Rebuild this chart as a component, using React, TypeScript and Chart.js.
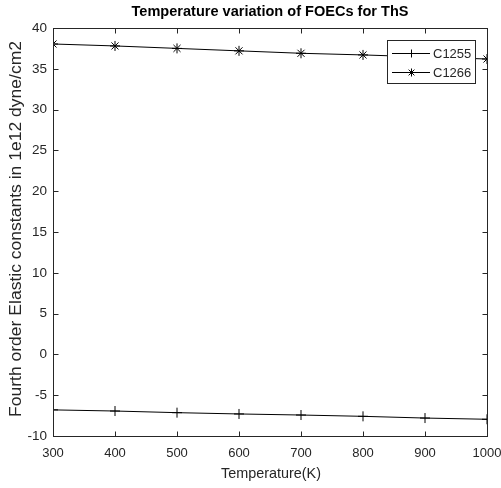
import React, { useEffect, useRef } from "react";
import { Chart, registerables } from "chart.js";

Chart.register(...registerables);

const temperatures = [300, 400, 500, 600, 700, 800, 900, 1000];
const c1255 = [-6.8, -6.94, -7.14, -7.3, -7.43, -7.59, -7.8, -7.95];
const c1266 = [38.04, 37.8, 37.5, 37.2, 36.9, 36.7, 36.45, 36.2];
const xTicks = [300, 400, 500, 600, 700, 800, 900, 1000];
const yTicks = [-10, -5, 0, 5, 10, 15, 20, 25, 30, 35, 40];
const seriesNames = ["C1255", "C1266"];
const titleText = "Temperature variation of FOECs for ThS";
const xTitle = "Temperature(K)";
const yTitle = "Fourth order Elastic constants in 1e12 dyne/cm2";

const FONT = "'Liberation Sans', Arial, sans-serif";
const INK = "#262626";

function fitText(ctx: any, text: string, x: number, y: number, width: number) {
  const w = ctx.measureText(text).width;
  ctx.save();
  ctx.translate(x, y);
  ctx.scale(width / w, 1);
  ctx.fillText(text, 0, 0);
  ctx.restore();
}

const decorPlugin = {
  id: "decor",
  afterDraw(chart: any) {
    const { ctx, chartArea } = chart;
    const xs = chart.scales.x;
    const ys = chart.scales.y;
    ctx.save();
    ctx.strokeStyle = INK;
    ctx.lineWidth = 1;
    const L = Math.round(chartArea.left) + 0.5;
    const R = Math.round(chartArea.right) + 0.5;
    const T = Math.round(chartArea.top) + 0.5;
    const B = Math.round(chartArea.bottom) + 0.5;
    ctx.strokeRect(L, T, R - L, B - T);
    const tl = 5;
    ctx.beginPath();
    xTicks.forEach((v) => {
      const px = Math.round(xs.getPixelForValue(v)) + 0.5;
      ctx.moveTo(px, B);
      ctx.lineTo(px, B - tl);
      ctx.moveTo(px, T);
      ctx.lineTo(px, T + tl);
    });
    yTicks.forEach((v) => {
      const py = Math.round(ys.getPixelForValue(v)) + 0.5;
      ctx.moveTo(L, py);
      ctx.lineTo(L + tl, py);
      ctx.moveTo(R, py);
      ctx.lineTo(R - tl, py);
    });
    ctx.stroke();

    // title
    ctx.fillStyle = "#000";
    ctx.textAlign = "center";
    ctx.textBaseline = "middle";
    ctx.font = `bold 14.5px ${FONT}`;
    fitText(ctx, titleText, 270, 12, 277);
    // x title
    ctx.fillStyle = INK;
    ctx.font = `14.5px ${FONT}`;
    fitText(ctx, xTitle, 271, 474, 100);
    // y title
    ctx.save();
    ctx.translate(16.5, 229);
    ctx.rotate(-Math.PI / 2);
    ctx.font = `16.5px ${FONT}`;
    fitText(ctx, yTitle, 0, 0, 376);
    ctx.restore();

    // legend
    const lx = 387.5, ly = 40.5, lw = 88, lh = 43;
    ctx.fillStyle = "#fff";
    ctx.fillRect(lx, ly, lw, lh);
    ctx.strokeStyle = INK;
    ctx.strokeRect(lx, ly, lw, lh);
    const rows = [53, 72];
    rows.forEach((ry, i) => {
      ctx.strokeStyle = "#000";
      ctx.beginPath();
      ctx.moveTo(392, ry + 0.5);
      ctx.lineTo(430, ry + 0.5);
      ctx.stroke();
      const mx = 411.5, my = ry + 0.5, r = 4;
      ctx.beginPath();
      ctx.moveTo(mx - r, my);
      ctx.lineTo(mx + r, my);
      ctx.moveTo(mx, my - r);
      ctx.lineTo(mx, my + r);
      if (i === 1) {
        const d = r * 0.72;
        ctx.moveTo(mx - d, my - d);
        ctx.lineTo(mx + d, my + d);
        ctx.moveTo(mx - d, my + d);
        ctx.lineTo(mx + d, my - d);
      }
      ctx.stroke();
      ctx.fillStyle = INK;
      ctx.textAlign = "left";
      ctx.font = `13px ${FONT}`;
      ctx.fillText(seriesNames[i], 433, ry + 1);
    });
    ctx.restore();
  },
};

export default function App() {
  const ref = useRef<HTMLCanvasElement>(null);
  useEffect(() => {
    if (!ref.current) return;
    const chart = new Chart(ref.current, {
      type: "line",
      data: {
        datasets: [
          {
            label: seriesNames[0],
            data: temperatures.map((t, i) => ({ x: t, y: c1255[i] })),
            borderColor: "#000",
            backgroundColor: "#000",
            borderWidth: 1,
            pointStyle: "cross",
            pointRadius: 5,
            pointBorderWidth: 1,
            pointBorderColor: "#000",
          },
          {
            label: seriesNames[1],
            data: temperatures.map((t, i) => ({ x: t, y: c1266[i] })),
            borderColor: "#000",
            backgroundColor: "#000",
            borderWidth: 1,
            pointStyle: "star",
            pointRadius: 5,
            pointBorderWidth: 1,
            pointBorderColor: "#000",
          },
        ],
      },
      options: {
        animation: false,
        responsive: false,
        maintainAspectRatio: false,
        layout: { padding: { left: 0, right: 14, top: 28, bottom: 0 } },
        plugins: { legend: { display: false }, title: { display: false }, tooltip: { enabled: false } },
        scales: {
          x: {
            type: "linear",
            min: 300,
            max: 1000,
            afterBuildTicks: (s: any) => {
              s.ticks = xTicks.map((v) => ({ value: v }));
            },
            afterFit: (s: any) => {
              s.height = 52;
              s.paddingLeft = 0;
              s.paddingRight = 0;
            },
            grid: { display: false, drawTicks: false },
            border: { display: false },
            ticks: {
              color: INK,
              font: { family: FONT, size: 13 },
              padding: 10,
              maxRotation: 0,
              callback: (v: any) => String(v),
            },
          },
          y: {
            type: "linear",
            min: -10,
            max: 40,
            afterBuildTicks: (s: any) => {
              s.ticks = yTicks.map((v) => ({ value: v }));
            },
            afterFit: (s: any) => {
              s.width = 53;
              s.paddingTop = 0;
              s.paddingBottom = 0;
            },
            grid: { display: false, drawTicks: false },
            border: { display: false },
            ticks: {
              color: INK,
              font: { family: FONT, size: 13.5 },
              padding: 6,
              callback: (v: any) => String(v),
            },
          },
        },
      },
      plugins: [decorPlugin],
    });
    return () => chart.destroy();
  }, []);
  return (
    <div style={{ position: "fixed", left: 0, top: 0, width: 501, height: 488, background: "#fff" }}>
      <canvas ref={ref} width={501} height={488} style={{ width: 501, height: 488 }} />
    </div>
  );
}
